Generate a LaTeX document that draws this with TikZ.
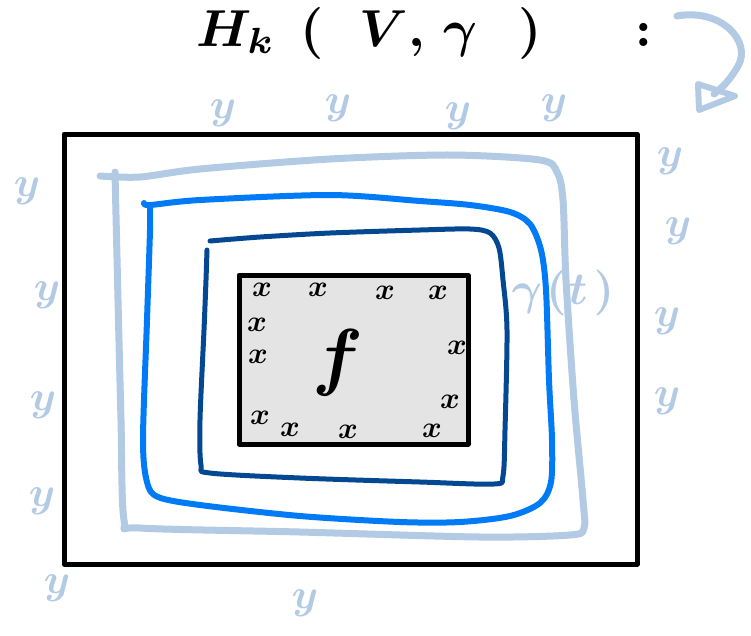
\documentclass[tikz,border=0pt]{standalone}
\usepackage{amsmath}
\usepackage{graphicx}
\usetikzlibrary{arrows.meta}
\definecolor{lightb}{RGB}{178,202,228}
\definecolor{midb}{RGB}{0,122,245}
\definecolor{darkb}{RGB}{4,72,146}
\definecolor{fillg}{RGB}{228,228,228}
\newcommand{\ymk}{\scalebox{4.2}{$y$}}
\newcommand{\xmk}{\scalebox{3.0}{$x$}}
\begin{document}
\begin{tikzpicture}[x=1pt,y=-1pt,
  ymark/.style={text=lightb, font=\boldmath, inner sep=0pt},
  xmark/.style={text=black, font=\boldmath, inner sep=0pt},
  sketch/.style={line width=#1, line cap=round, line join=round},
  box/.style={draw=black, line width=5, line join=round}]
\useasboundingbox (0,0) rectangle (751,635);

% outer domain
\draw[box] (64,134) rectangle (637,564);

% light blue outer loop
\draw[sketch=7, lightb] plot[smooth, tension=0.5] coordinates {
  (100,176) (140,177) (200,169) (330,159) (450,155) (540,160) (557,172) (563,200)
  (566,280) (574,400) (583,500) (584,528) (570,535) (480,537) (300,532) (140,528)
  (124,520) (121,420) (118,300) (115,172)};

% medium blue loop
\draw[sketch=6, midb] plot[smooth, tension=0.5] coordinates {
  (144,203) (150,205) (200,200) (330,195) (420,201) (470,205) (510,212) (530,224)
  (541,250) (546,290) (549,380) (552,440) (551,482) (540,503) (510,516) (460,522)
  (400,522) (300,516) (200,505) (158,497) (147,482) (143,440) (147,320) (150,230) (150,207)};

% dark blue loop
\draw[sketch=5, darkb] plot[smooth, tension=0.5] coordinates {
  (210,241) (260,237) (330,233) (420,230) (470,229) (490,233) (499,248) (503,280)
  (507,330) (505,430) (503,476) (494,484) (420,482) (300,478) (210,473) (201,465)
  (200,420) (204,330) (206,280) (207,250)};

% inner region
\draw[box, fill=fillg] (239,275) rectangle (468,444);
\node[font=\boldmath, inner sep=0pt] (f) at (338,363) {\scalebox{7.5}{$f$}};

% x marks inside
\node[xmark] (x1) at (262,290) {\xmk};
\node[xmark] (x2) at (318,290) {\xmk};
\node[xmark] (x3) at (385,293) {\xmk};
\node[xmark] (x4) at (438,293) {\xmk};
\node[xmark] (x5) at (257,325) {\xmk};
\node[xmark] (x6) at (258,357) {\xmk};
\node[xmark] (x7) at (457,348) {\xmk};
\node[xmark] (x8) at (260,418) {\xmk};
\node[xmark] (x9) at (290,430) {\xmk};
\node[xmark] (x10) at (348,432) {\xmk};
\node[xmark] (x11) at (450,402) {\xmk};
\node[xmark] (x12) at (432,431) {\xmk};

% y marks outside
\node[ymark] (y1) at (223,113) {\ymk};
\node[ymark] (y2) at (338,108) {\ymk};
\node[ymark] (y3) at (458,116) {\ymk};
\node[ymark] (y4) at (554,108) {\ymk};
\node[ymark] (y5) at (670,161) {\ymk};
\node[ymark] (y6) at (678,231) {\ymk};
\node[ymark] (y7) at (667,321) {\ymk};
\node[ymark] (y8) at (667,401) {\ymk};
\node[ymark] (y9) at (27,191) {\ymk};
\node[ymark] (y10) at (47,295) {\ymk};
\node[ymark] (y11) at (43,405) {\ymk};
\node[ymark] (y12) at (42,501) {\ymk};
\node[ymark] (y13) at (57,588) {\ymk};
\node[ymark] (y14) at (305,603) {\ymk};

% gamma(t) label
\node[text=lightb, font=\boldmath, inner sep=0pt] (gt) at (563,293)
  {\scalebox{4.6}{$\gamma\hspace{0.9pt}(\hspace{0.4pt}t\hspace{1.3pt})$}};

% title
\node[font=\boldmath, anchor=base west, inner sep=0pt] (title) at (196,46)
  {\scalebox{5.2}{$H_k\hspace{4.8pt}(\hspace{7pt}V\hspace{0pt}\mathord{,}\hspace{3.5pt}\gamma\hspace{8pt})\hspace{14.8pt}:$}};

% curved arrow top right
\draw[sketch=7, lightb] (677,16) .. controls (722,8) and (752,42) .. (738,66) .. controls (730,80) and (722,88) .. (714,94);
\draw[sketch=6, lightb] (698,84) -- (699,110) -- (735,96) -- cycle;
\end{tikzpicture}
\end{document}
